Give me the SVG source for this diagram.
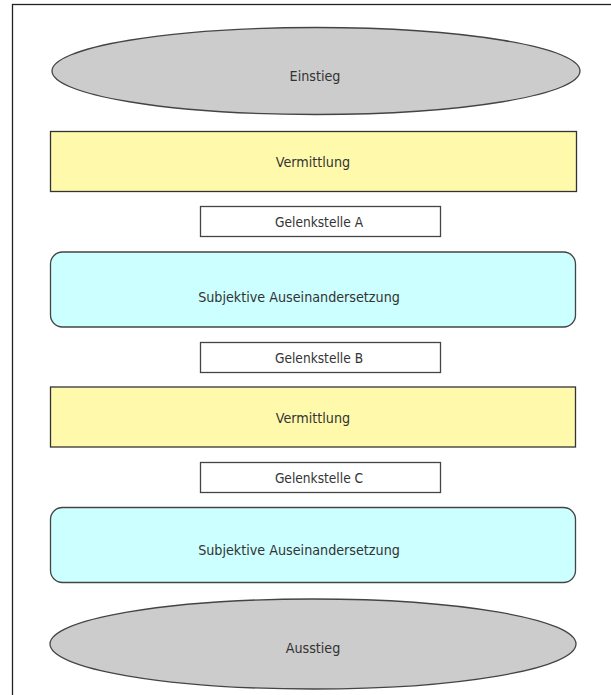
<svg xmlns="http://www.w3.org/2000/svg" width="611" height="695" viewBox="0 0 611 695">
<style>
text{font-family:"Liberation Sans Narrow","DejaVu Sans Condensed","Liberation Sans",sans-serif;fill:#333;text-anchor:middle;dominant-baseline:central}
.big{font-size:14.2px}
.small{font-size:13.6px}
.ell{fill:#cccccc;stroke:#444;stroke-width:1.3}
.verm{fill:#fffaab;stroke:#333;stroke-width:1.3}
.subj{fill:#ccffff;stroke:#444;stroke-width:1.3}
.gel{fill:#fff;stroke:#444;stroke-width:1.3}
</style>
<rect x="0" y="0" width="611" height="695" fill="#fff"/>
<rect x="12.5" y="4.5" width="700" height="800" fill="none" stroke="#222" stroke-width="1.3"/>
<g id="connectors"></g>
<g id="einstieg"><ellipse class="ell" cx="316" cy="71" rx="264" ry="43.5"/><text class="big" x="315" y="76">Einstieg</text></g>
<g id="vermittlung1"><rect class="verm" x="50.5" y="131.5" width="526" height="60"/><text class="big" x="313" y="162">Vermittlung</text></g>
<g id="gelenkA"><rect class="gel" x="200.5" y="206.5" width="240" height="30"/><text class="small" x="319" y="222">Gelenkstelle A</text></g>
<g id="subjektiv1"><rect class="subj" x="50.5" y="252" width="525" height="75" rx="12"/><text class="big" x="299" y="297">Subjektive Auseinandersetzung</text></g>
<g id="gelenkB"><rect class="gel" x="200.5" y="342.5" width="240" height="30"/><text class="small" x="319" y="358">Gelenkstelle B</text></g>
<g id="vermittlung2"><rect class="verm" x="50.5" y="387" width="525" height="60"/><text class="big" x="313" y="418">Vermittlung</text></g>
<g id="gelenkC"><rect class="gel" x="200.5" y="462.5" width="240" height="30"/><text class="small" x="319" y="478">Gelenkstelle C</text></g>
<g id="subjektiv2"><rect class="subj" x="50.5" y="507.5" width="525" height="75" rx="12"/><text class="big" x="299" y="550">Subjektive Auseinandersetzung</text></g>
<g id="ausstieg"><ellipse class="ell" cx="313" cy="644" rx="263" ry="45"/><text class="big" x="313" y="648">Ausstieg</text></g>
</svg>
